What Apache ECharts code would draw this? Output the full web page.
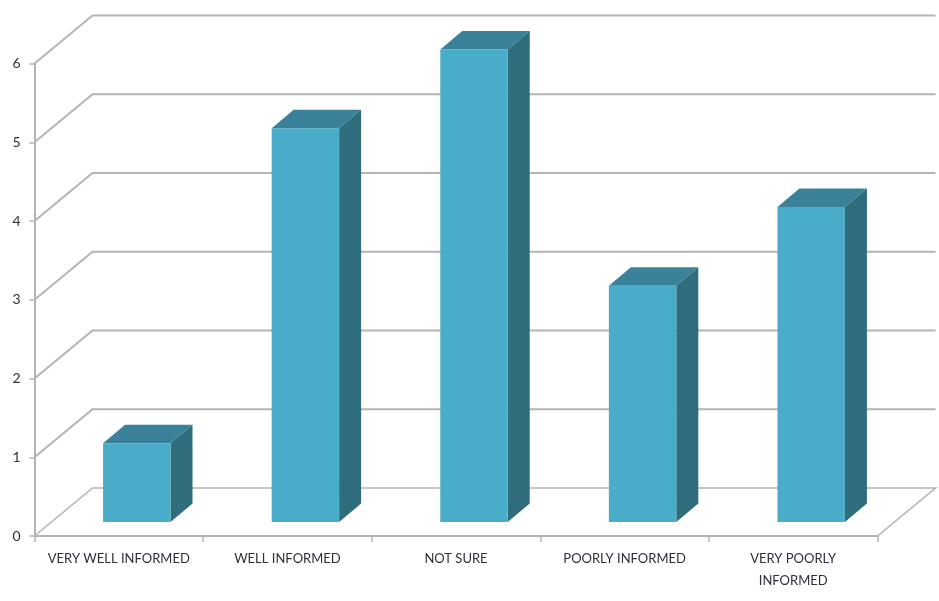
<!DOCTYPE html>
<html>
<head>
<meta charset="utf-8">
<style>html,body{margin:0;padding:0;background:#fff}#c{width:939px;height:601px}</style>
<script src="https://cdn.jsdelivr.net/npm/echarts@6/dist/echarts.min.js"></script>
</head>
<body>
<div id="c"></div>
<script>
const categories = ['VERY WELL INFORMED', 'WELL INFORMED', 'NOT SURE', 'POORLY INFORMED', 'VERY POORLY\nINFORMED'];
const values = [1, 5, 6, 3, 4];
const gridTicks = [0, 1, 2, 3, 4, 5, 6];

const WALL_DX = 58, WALL_DY = -48, FRONT_DX = 17, FRONT_DY = -14, SIDE_DX = 22, SIDE_DY = -18.5;
const GRID = '#b4b4b4', FRONT = '#49acc8', TOP = '#3a8299', SIDE = '#2f6d7d', TEXT = '#2f2f3a';

const chart = echarts.init(document.getElementById('c'), null, { renderer: 'canvas' });

function wallItem(params, api) {
  const cs = params.coordSys;
  const v = api.value(1);
  const y = api.coord([0, v])[1];
  const x0 = cs.x, x1 = cs.x + cs.width;
  return {
    type: 'polyline',
    shape: { points: [[x0, y], [x0 + WALL_DX, y + WALL_DY], [x1 + WALL_DX, y + WALL_DY]].concat(v === 0 ? [[x1, y]] : []) },
    style: { stroke: GRID, lineWidth: v === 0 ? 1.6 : 2, fill: null }
  };
}

function barItem(params, api) {
  const top = api.coord([api.value(0), api.value(1)]);
  const base = api.coord([api.value(0), 0]);
  const w = api.size([1, 0])[0] * 0.4;
  const l = top[0] + FRONT_DX - w / 2 + 1, r = l + w;
  const t = top[1] + FRONT_DY, b = base[1] + FRONT_DY;
  return {
    type: 'group',
    children: [
      { type: 'polygon', shape: { points: [[l, t], [r, t], [r + SIDE_DX, t + SIDE_DY], [l + SIDE_DX, t + SIDE_DY]] }, style: { fill: TOP } },
      { type: 'polygon', shape: { points: [[r, t], [r + SIDE_DX, t + SIDE_DY], [r + SIDE_DX, b + SIDE_DY], [r, b]] }, style: { fill: SIDE } },
      { type: 'rect', shape: { x: l, y: t, width: w, height: b - t }, style: { fill: FRONT } }
    ]
  };
}

chart.setOption({
  animation: false,
  backgroundColor: '#fff',
  grid: { left: 34.5, right: 61.5, top: 63.5, bottom: 65 },
  xAxis: {
    type: 'category',
    data: categories,
    boundaryGap: true,
    axisLine: { show: true, lineStyle: { color: GRID, width: 2 } },
    axisTick: { show: true, alignWithLabel: false, length: 6, lineStyle: { color: GRID, width: 1.5 } },
    axisLabel: { color: TEXT, fontFamily: 'Lato', fontSize: 13, margin: 12, lineHeight: 22, interval: 0 }
  },
  yAxis: {
    type: 'value',
    min: 0, max: 6, interval: 1,
    axisLine: { show: true, lineStyle: { color: GRID, width: 2 } },
    axisTick: { show: true, length: 5, lineStyle: { color: GRID, width: 1.5 } },
    axisLabel: { color: TEXT, fontFamily: 'Lato', fontSize: 14, margin: 14 },
    splitLine: { show: false }
  },
  series: [
    { type: 'custom', z: 1, renderItem: wallItem, data: gridTicks.map(v => [0, v]), silent: true },
    { type: 'custom', z: 3, renderItem: barItem, data: values.map((v, i) => [i, v]) }
  ]
});
</script>
</body>
</html>
